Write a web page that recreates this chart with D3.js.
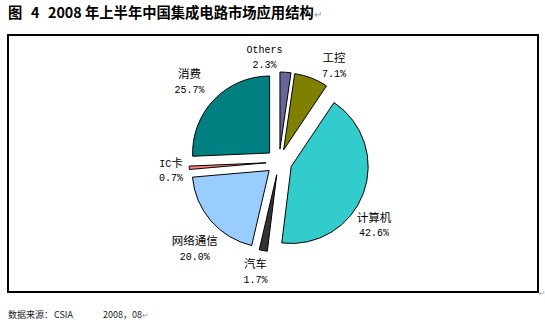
<!DOCTYPE html>
<html>
<head>
<meta charset="utf-8">
<script src="https://cdn.jsdelivr.net/npm/d3@7/dist/d3.min.js"></script>
<style>
  html, body { margin: 0; padding: 0; background: #fff; }
  svg { display: block; }
</style>
</head>
<body>
<script>
// 2008 H1 China IC market by application (share, %)
const categories = ["Others", "工控", "计算机", "汽车", "网络通信", "IC卡", "消费"];
const shares = [2.3, 7.1, 42.6, 1.7, 20.0, 0.7, 25.7];
const sliceColors = ["#666699", "#808000", "#33cccc", "#333333", "#99ccff", "#ff8080", "#008080"];

// title and source note, split into the pieces that sit at their own tab stops
const titleParts = ["图", "4", "2008 年上半年中国集成电路市场应用结构"];
const sourceParts = ["数据来源：", "CSIA", "2008，08"];

// layout
const W = 545, H = 322;
const cx = 279, cy = 162, radius = 77, explode = 13, labelRadius = 112;
// small hand offsets for label blocks around the pie
const labelNudge = [[-22.6, 5], [14.8, 6.8], [-9.9, 23.1], [-4, -1.9], [0.5, 12.3], [3.8, -0.3], [-8.6, -3.8]];
const titleStops = [8, 31, 48];
const sourceStops = [8, 54, 103];

const svg = d3.select("body").append("svg").attr("width", W).attr("height", H);

// title
const title = svg.append("text")
  .attr("y", 18)
  .attr("font-family", "'Noto Sans CJK SC', sans-serif")
  .attr("font-size", 14.3).attr("font-weight", "bold").attr("fill", "#000");
titleParts.forEach((p, i) => title.append("tspan").attr("x", titleStops[i]).text(p));
title.append("tspan").attr("font-weight", "normal").attr("font-size", 10).attr("fill", "#999").text("↵");

// chart frame
svg.append("rect")
  .attr("x", 8).attr("y", 35).attr("width", 530).attr("height", 257)
  .attr("fill", "none").attr("stroke", "#000").attr("stroke-width", 2);
svg.append("text").attr("x", 539).attr("y", 296)
  .attr("font-family", "'DejaVu Sans', sans-serif").attr("font-size", 8).attr("fill", "#aaa").text("↵");

// pie
const pie = d3.pie().sort(null).value(d => d.value).startAngle(0).endAngle(2 * Math.PI);
const arcs = pie(categories.map((c, i) => ({ name: c, value: shares[i], color: sliceColors[i], idx: i })));
const arc = d3.arc().innerRadius(0).outerRadius(radius);

const g = svg.append("g").attr("transform", `translate(${cx},${cy})`);
g.selectAll("path").data(arcs).join("path")
  .attr("d", arc)
  .attr("transform", d => {
    const a = (d.startAngle + d.endAngle) / 2;
    return `translate(${Math.sin(a) * explode},${-Math.cos(a) * explode})`;
  })
  .attr("fill", d => d.data.color)
  .attr("stroke", "#000").attr("stroke-width", 1).attr("stroke-linejoin", "round");

// mixed-script text: latin runs in a mono face, CJK in a CJK face
function addRuns(textSel, str) {
  const runs = [];
  for (const ch of str) {
    const latin = ch.charCodeAt(0) < 256;
    if (runs.length && runs[runs.length - 1].latin === latin) runs[runs.length - 1].s += ch;
    else runs.push({ latin, s: ch });
  }
  runs.forEach(r => {
    textSel.append("tspan")
      .attr("font-family", r.latin ? "'Liberation Mono', monospace" : "'Noto Sans CJK SC', sans-serif")
      .attr("font-size", r.latin ? 10 : 11.5)
      .text(r.s);
  });
}

const labels = svg.append("g").attr("fill", "#000");
arcs.forEach((d, i) => {
  const a = (d.startAngle + d.endAngle) / 2;
  const lx = cx + Math.sin(a) * labelRadius + labelNudge[i][0];
  const ly = cy - Math.cos(a) * labelRadius + labelNudge[i][1];
  const t1 = labels.append("text").attr("x", lx).attr("y", ly - 2.25).attr("text-anchor", "middle");
  addRuns(t1, d.data.name);
  const t2 = labels.append("text").attr("x", lx).attr("y", ly + 12.25).attr("text-anchor", "middle");
  addRuns(t2, d.data.value.toFixed(1) + "%");
});

// source note
const src = svg.append("text")
  .attr("y", 318)
  .attr("font-family", "'Noto Sans CJK SC', sans-serif")
  .attr("font-size", 9).attr("fill", "#222");
sourceParts.forEach((p, i) => src.append("tspan").attr("x", sourceStops[i]).text(p));
src.append("tspan").attr("fill", "#999").attr("font-size", 8).text("↵");
</script>
</body>
</html>
